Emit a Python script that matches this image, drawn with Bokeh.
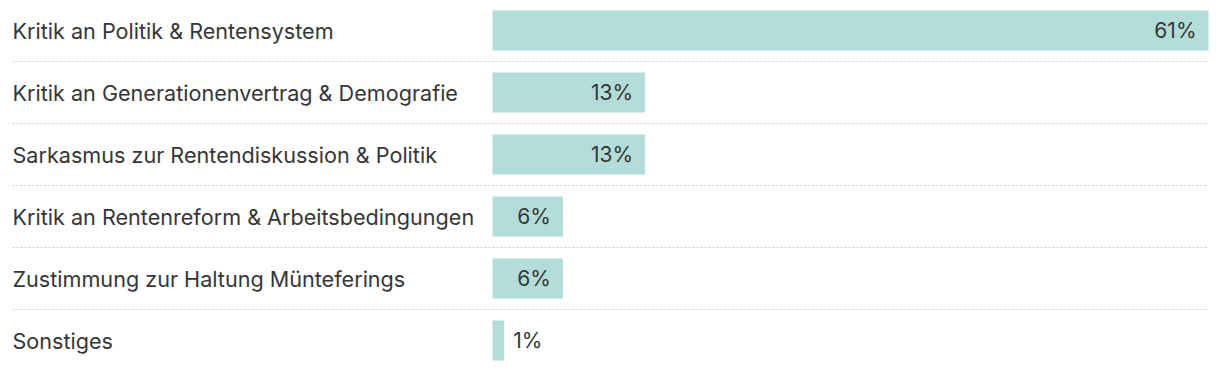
from bokeh.plotting import figure
from bokeh.models import Range1d, ColumnDataSource
from bokeh.core.properties import value
from bokeh.embed import file_html
from bokeh.resources import INLINE

categories = [
    "Kritik an Politik & Rentensystem",
    "Kritik an Generationenvertrag & Demografie",
    "Sarkasmus zur Rentendiskussion & Politik",
    "Kritik an Rentenreform & Arbeitsbedingungen",
    "Zustimmung zur Haltung Münteferings",
    "Sonstiges",
]
values = [61, 13, 13, 6, 6, 1]
labels = ["61%", "13%", "13%", "6%", "6%", "1%"]

W, H = 1220, 370
bar_x0_px = 492          # pixel where 0% sits
px_per_pct = 716 / 61
row_px = 62
first_center_px = 30

xs = -bar_x0_px / px_per_pct
xe = (W - bar_x0_px) / px_per_pct
y_top = -first_center_px / row_px
y_bot = (H - first_center_px) / row_px

p = figure(width=W, height=H, output_backend="svg", toolbar_location=None,
           x_range=Range1d(xs, xe), y_range=Range1d(y_bot, y_top),
           min_border=0, min_border_left=0, min_border_right=0,
           min_border_top=0, min_border_bottom=0)
p.axis.visible = False
p.grid.visible = False
p.outline_line_color = None
p.background_fill_color = "white"
p.border_fill_color = "white"

n = len(categories)
ys = list(range(n))
font = value("Inter")
text_color = "#363636"

# separators
sep_y = [i + 0.5 for i in range(n - 1)]
label_x = xs + 12 / px_per_pct
p.segment(x0=[label_x] * len(sep_y), x1=[max(values)] * len(sep_y), y0=sep_y, y1=sep_y,
          line_color="#cccccc", line_width=1, line_dash="2 2")

# bars
src = ColumnDataSource(dict(y=ys, v=values, lab=labels, cat=categories))
p.hbar(y="y", left=0, right="v", height=40 / row_px, source=src,
       fill_color="#b3ddd8", line_color=None)

# category labels
p.text(x=[label_x] * n, y=ys, text=categories, text_font=font, text_font_size="21.6px",
       text_color=text_color, text_align="left", text_baseline="middle")

# value labels
inside = [v >= 5 for v in values]
in_x = [v - 12 / px_per_pct for v, ok in zip(values, inside) if ok]
in_y = [y for y, ok in zip(ys, inside) if ok]
in_t = [t for t, ok in zip(labels, inside) if ok]
out_x = [v + 9 / px_per_pct for v, ok in zip(values, inside) if not ok]
out_y = [y for y, ok in zip(ys, inside) if not ok]
out_t = [t for t, ok in zip(labels, inside) if not ok]
p.text(x=in_x, y=in_y, text=in_t, text_font=font, text_font_size="21px",
       text_color=text_color, text_align="right", text_baseline="middle")
p.text(x=out_x, y=out_y, text=out_t, text_font=font, text_font_size="21px",
       text_color=text_color, text_align="left", text_baseline="middle")

open("out.html", "w").write(file_html(p, INLINE))
